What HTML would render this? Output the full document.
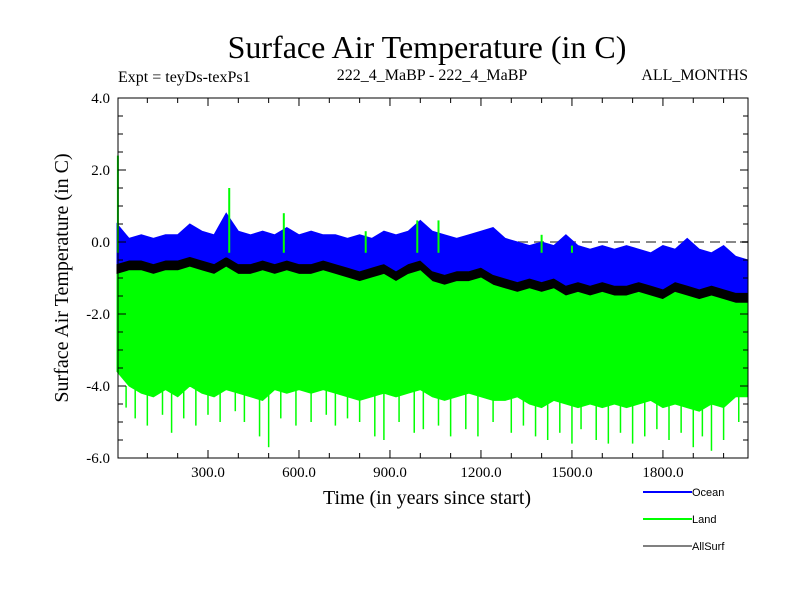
<!DOCTYPE html>
<html><head><meta charset="utf-8"><style>
body{margin:0;background:#fff}
.serif{font-family:"Liberation Serif",serif}
.sans{font-family:"Liberation Sans",sans-serif}
</style></head><body>
<svg id="c" width="800" height="600" viewBox="0 0 800 600" xmlns="http://www.w3.org/2000/svg">
<g class="serif">
<text x="427" y="58" font-size="32" text-anchor="middle">Surface Air Temperature (in C)</text>
<text x="118" y="82" font-size="16">Expt = teyDs-texPs1</text>
<text x="432" y="80" font-size="16" text-anchor="middle">222_4_MaBP - 222_4_MaBP</text>
<text x="748" y="80" font-size="16" text-anchor="end">ALL_MONTHS</text>
<text x="427" y="504" font-size="20" text-anchor="middle">Time (in years since start)</text>
<text transform="translate(68,278) rotate(-90)" font-size="20" text-anchor="middle">Surface Air Temperature (in C)</text>
</g>
<g id="plot" class="serif"></g>
<g id="legend" class="sans"></g>
</svg>
<script>
const years=[0,40,80,120,160,200,240,280,320,360,400,440,480,520,560,600,640,680,720,760,800,840,880,920,960,1000,1040,1080,1120,1160,1200,1240,1280,1320,1360,1400,1440,1480,1520,1560,1600,1640,1680,1720,1760,1800,1840,1880,1920,1960,2000,2040,2080];
const oceanHi=[0.5,0.1,0.2,0.1,0.2,0.2,0.5,0.3,0.2,0.8,0.3,0.2,0.3,0.2,0.4,0.2,0.3,0.2,0.2,0.1,0.2,0.1,0.3,0.2,0.3,0.6,0.3,0.2,0.1,0.2,0.3,0.4,0.1,0.0,-0.1,0.0,-0.1,0.2,-0.1,-0.2,-0.1,-0.2,-0.1,-0.2,-0.3,-0.1,-0.2,0.1,-0.2,-0.3,-0.1,-0.4,-0.5];
const oceanLo=[-0.6,-0.5,-0.5,-0.6,-0.5,-0.5,-0.4,-0.5,-0.6,-0.4,-0.6,-0.6,-0.5,-0.6,-0.5,-0.6,-0.6,-0.5,-0.6,-0.7,-0.8,-0.7,-0.6,-0.8,-0.6,-0.5,-0.8,-0.9,-0.8,-0.8,-0.7,-0.9,-1.0,-1.1,-1.0,-1.1,-1.0,-1.2,-1.1,-1.2,-1.1,-1.2,-1.2,-1.1,-1.2,-1.3,-1.1,-1.2,-1.3,-1.2,-1.3,-1.4,-1.4];
const allLo=[-1.1,-1.2,-1.3,-1.1,-1.2,-1.0,-1.1,-1.3,-1.2,-1.1,-1.3,-1.2,-1.1,-1.3,-1.2,-1.2,-1.3,-1.2,-1.1,-1.3,-1.5,-1.4,-1.2,-1.4,-1.2,-1.1,-1.4,-1.6,-1.5,-1.4,-1.3,-1.5,-1.6,-1.7,-1.6,-1.7,-1.6,-1.8,-1.7,-1.8,-1.6,-1.8,-1.9,-1.7,-1.8,-2.0,-1.8,-1.9,-2.1,-1.9,-2.0,-2.1,-2.1];
const landHi=[-0.9,-0.8,-0.8,-0.9,-0.8,-0.8,-0.7,-0.8,-0.9,-0.7,-0.9,-0.9,-0.8,-0.9,-0.8,-0.9,-0.9,-0.8,-0.9,-1.0,-1.1,-1.0,-0.9,-1.1,-0.9,-0.8,-1.1,-1.2,-1.1,-1.1,-1.0,-1.2,-1.3,-1.4,-1.3,-1.4,-1.3,-1.5,-1.4,-1.5,-1.4,-1.5,-1.5,-1.4,-1.5,-1.6,-1.4,-1.5,-1.6,-1.5,-1.6,-1.7,-1.7];
const landLo=[-3.6,-4.0,-4.2,-4.3,-4.1,-4.3,-4.0,-4.2,-4.3,-4.1,-4.2,-4.3,-4.4,-4.1,-4.2,-4.1,-4.2,-4.1,-4.2,-4.3,-4.4,-4.3,-4.2,-4.3,-4.2,-4.1,-4.3,-4.4,-4.3,-4.2,-4.3,-4.4,-4.4,-4.3,-4.5,-4.6,-4.4,-4.5,-4.6,-4.5,-4.6,-4.5,-4.6,-4.5,-4.4,-4.6,-4.5,-4.6,-4.7,-4.5,-4.6,-4.3,-4.3];
const spikeYears=[30,60,100,150,180,220,260,300,340,390,420,470,500,540,590,640,690,720,760,800,850,880,930,980,1010,1060,1100,1150,1190,1240,1300,1340,1380,1420,1460,1500,1530,1580,1620,1660,1700,1740,1780,1820,1860,1900,1930,1960,2000,2050];
const spikeLows=[-4.6,-4.9,-5.1,-4.8,-5.3,-4.9,-5.1,-4.8,-5.0,-4.7,-5.0,-5.4,-5.7,-4.9,-5.1,-5.0,-4.8,-5.1,-4.9,-5.0,-5.4,-5.5,-5.0,-5.3,-5.2,-5.1,-5.4,-5.2,-5.4,-5.0,-5.3,-5.1,-5.4,-5.5,-5.3,-5.6,-5.2,-5.5,-5.6,-5.3,-5.6,-5.4,-5.2,-5.5,-5.3,-5.7,-5.4,-5.8,-5.5,-5.0];
const upYears=[3,370,550,820,990,1060,1400,1500];
const upVals=[2.4,1.5,0.8,0.3,0.6,0.6,0.2,-0.1];
const yTicks=[4.0,2.0,0.0,-2.0,-4.0,-6.0];
const xTicks=[300,600,900,1200,1500,1800];
const legendNames=["Ocean","Land","AllSurf"];

const L=118,R=748,T=98,B=458;
const xs=y=>117+y*0.3033;
const ys=v=>T+(4-v)*36;
const NS="http://www.w3.org/2000/svg";
const plot=document.getElementById('plot');
function mk(tag,at,parent){const e=document.createElementNS(NS,tag);for(const k in at)e.setAttribute(k,at[k]);(parent||plot).appendChild(e);return e;}

let z=mk('line',{x1:L,x2:R,y1:ys(0),y2:ys(0),stroke:'#888',"stroke-width":2,"stroke-dasharray":"10,6"});



function band(hi,lo,color,name){
  let d='M'+years.map((y,i)=>xs(y).toFixed(1)+','+ys(hi[i]).toFixed(1)).join('L');
  for(let i=years.length-1;i>=0;i--)d+='L'+xs(years[i]).toFixed(1)+','+ys(lo[i]).toFixed(1);
  const p=mk('path',{d:d+'Z',fill:color,stroke:color,"stroke-width":1});
  
  
}
band(oceanLo,allLo,'#000','allsurf-series');
band(landHi,landLo,'#00ff00','land-series');
const sg=mk('g',{stroke:'#00ff00',"stroke-width":1.5});


spikeYears.forEach((y,i)=>{mk('line',{x1:xs(y),x2:xs(y),y1:ys(-4.0),y2:ys(spikeLows[i])},sg);});
band(oceanHi,oceanLo,'#0000ff','ocean-series');
const ug=mk('g',{stroke:'#00ff00',"stroke-width":2});


upYears.forEach((y,i)=>{mk('line',{x1:xs(y),x2:xs(y),y1:ys(-0.3),y2:ys(upVals[i])},ug);});

const fr=mk('rect',{x:L,y:T,width:R-L,height:B-T,fill:'none',stroke:'#000',"stroke-width":1});


const tg=mk('g',{stroke:'#000',"stroke-width":1});
for(let y=100;y<2080;y+=100){const len=(y%300===0)?8:5;mk('line',{x1:xs(y),x2:xs(y),y1:B,y2:B-len},tg);mk('line',{x1:xs(y),x2:xs(y),y1:T,y2:T+len},tg);}
for(let v=-6;v<=4.001;v+=0.5){const len=(Math.abs(v%2)<0.01)?8:5;mk('line',{x1:L,x2:L+len,y1:ys(v),y2:ys(v)},tg);mk('line',{x1:R,x2:R-len,y1:ys(v),y2:ys(v)},tg);}
yTicks.forEach(v=>{const t=mk('text',{x:110,y:ys(v)+5,"font-size":15,"text-anchor":"end"});t.textContent=v.toFixed(1);

});
xTicks.forEach(v=>{const t=mk('text',{x:xs(v),y:477,"font-size":15,"text-anchor":"middle"});t.textContent=v.toFixed(1);

});

const lg=document.getElementById('legend');
const cols=['#0000ff','#00ff00','#000'];
legendNames.forEach((n,i)=>{const y=492+i*27;
 const g=mk('g',{},lg);
 
 
 mk('line',{x1:643,x2:692,y1:y,y2:y,stroke:cols[i],"stroke-width":i==2?1:2},g);
 const t=mk('text',{x:692,y:y+4,"font-size":11},g);t.textContent=n;});
</script>
</body></html>
